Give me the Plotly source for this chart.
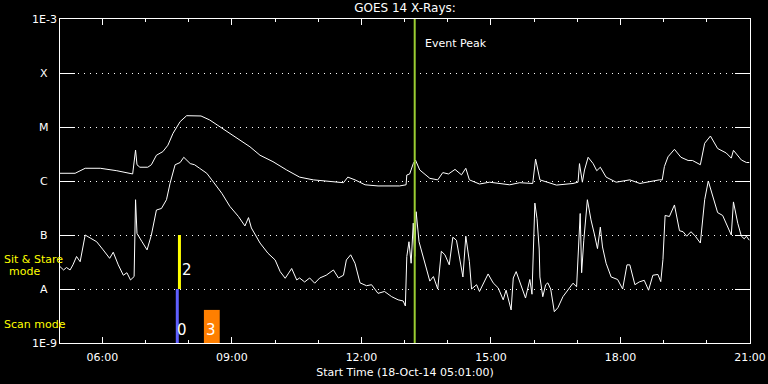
import math
import plotly.graph_objects as go

DAY = "2014-10-18 "

# ---- GOES 14 long channel (1-8 A) ----
long_times = ["05:01","05:22","05:36","05:57","06:20","06:42","06:46","06:48","06:52","07:03",
              "07:08","07:15","07:24","07:31","07:38","07:48","07:57","08:06","08:17","08:29",
              "08:47","09:06","09:25","09:39","09:57","10:16","10:34","10:53","11:35","11:41",
              "11:51","12:05","12:23","12:53","13:02","13:03","13:07","13:12","13:15","13:21",
              "13:35","13:46","13:53","14:01","14:10","14:19","14:25","14:30","14:44","14:58",
              "15:26","15:40","15:58","16:02","16:05","16:08","16:31","16:54","17:01","17:03",
              "17:07","17:10","17:15","17:22","17:27","17:32","17:40","17:54","18:13","18:27",
              "18:54","18:58","19:01","19:06","19:15","19:24","19:34","19:40","19:51","19:57",
              "20:05","20:15","20:27","20:34","20:37","20:48","20:55","20:59"]
long_flux = [1.39e-6,1.39e-6,1.72e-6,1.72e-6,1.55e-6,1.35e-6,3.75e-6,2.0e-6,1.8e-6,1.8e-6,
             2.0e-6,3.0e-6,3.5e-6,4.6e-6,7.6e-6,1.26e-5,1.62e-5,1.6e-5,1.6e-5,1.35e-5,
             9.4e-6,6.2e-6,4.3e-6,3.0e-6,2.28e-6,1.6e-6,1.18e-6,1.05e-6,9.3e-7,1.18e-6,
             1.05e-6,8.5e-7,8.1e-7,8.1e-7,8.5e-7,1.29e-6,1.35e-6,2.1e-6,2.45e-6,1.6e-6,
             1.12e-6,1.05e-6,1.43e-6,1.35e-6,1.64e-6,1.3e-6,1.72e-6,1.05e-6,8.8e-7,9.5e-7,
             8.5e-7,9.3e-7,9.0e-7,2.55e-6,1.6e-6,1.05e-6,8.4e-7,9.0e-7,9.5e-7,2.1e-6,
             9.5e-7,1.6e-6,2.75e-6,2.1e-6,1.55e-6,1.8e-6,1.18e-6,9.5e-7,1.05e-6,9.0e-7,
             1.05e-6,1.05e-6,1.85e-6,2.8e-6,3.86e-6,2.75e-6,2.4e-6,2.4e-6,2.0e-6,5.0e-6,
             6.8e-6,4.0e-6,3.3e-6,2.65e-6,3.7e-6,2.45e-6,2.2e-6,2.2e-6]

# ---- GOES 14 short channel (0.5-4 A) ----
short_times = ["05:01","05:06","05:10","05:15","05:19","05:24","05:29","05:36","05:43","05:52",
               "06:01","06:10","06:15","06:22","06:29","06:34","06:39","06:44","06:46","06:48",
               "06:55","07:02","07:08","07:15","07:22","07:29","07:34","07:41","07:48","07:53",
               "08:02","08:08","08:15","08:25","08:32","08:46","08:57","09:09","09:18","09:23",
               "09:27","09:39","09:50","10:00","10:07","10:14","10:18","10:23","10:30","10:34",
               "10:41","10:48","10:55","11:02","11:11","11:21","11:28","11:35","11:39","11:45",
               "11:51","11:58","12:07","12:14","12:23","12:32","12:42","12:51","12:58","13:01",
               "13:03","13:06","13:09","13:12","13:14","13:16","13:20","13:30","13:35","13:40",
               "13:46","13:51","13:56","14:02","14:07","14:12","14:21","14:25","14:30","14:33",
               "14:40","14:44","14:56","15:03","15:10","15:17","15:21","15:28","15:31","15:35",
               "15:42","15:48","15:54","15:57","16:01","16:04","16:07","16:08","16:12","16:16",
               "16:19","16:23","16:28","16:33","16:40","16:47","16:54","16:59","17:02","17:04",
               "17:06","17:09","17:14","17:19","17:24","17:28","17:32","17:35","17:40","17:47",
               "17:56","18:03","18:09","18:13","18:20","18:26","18:33","18:39","18:45","18:52",
               "18:56","18:59","19:02","19:08","19:15","19:22","19:27","19:32","19:38","19:44",
               "19:51","19:57","20:02","20:08","20:15","20:22","20:32","20:34","20:37","20:43",
               "20:48","20:52","20:55","20:59"]
short_flux = [2.6e-8,2.25e-8,2.5e-8,2.25e-8,2.8e-8,4.0e-8,3.2e-8,1.0e-7,8.8e-8,7.5e-8,
              5.3e-8,3.7e-8,4.8e-8,2.8e-8,1.8e-8,2.0e-8,1.47e-8,1.7e-8,4.5e-7,1.07e-7,
              7.5e-8,5.3e-8,1.0e-7,2.9e-7,3.1e-7,4.5e-7,9.1e-7,2.0e-6,2.2e-6,2.75e-6,
              2.1e-6,2.0e-6,1.72e-6,1.39e-6,1.05e-6,5.9e-7,3.4e-7,2.2e-7,1.47e-7,2.1e-7,
              1.35e-7,7.1e-8,4.6e-8,3.45e-8,2.1e-8,1.58e-8,1.9e-8,2.4e-8,1.47e-8,1.6e-8,
              1.35e-8,1.6e-8,1.28e-8,1.6e-8,1.8e-8,2.25e-8,1.6e-8,1.8e-8,3.45e-8,4.3e-8,
              3.0e-8,1.3e-8,1.15e-8,1.2e-8,8.3e-9,9.0e-9,7.2e-9,6.3e-9,6.0e-9,4.85e-9,
              4.0e-8,7.5e-8,3.0e-8,1.66e-7,4.0e-8,2.7e-7,7.5e-8,2.6e-8,1.4e-8,1.7e-8,
              1.0e-8,5.0e-8,4.3e-8,2.8e-8,9.1e-8,8.0e-8,1.67e-8,9.5e-8,3.2e-8,1.0e-8,
              1.2e-8,9.0e-9,1.9e-8,1.3e-8,1.05e-8,6.3e-9,9.5e-9,4.1e-9,1.6e-8,2.1e-8,
              1.2e-8,6.8e-9,1.5e-8,8.0e-9,3.9e-7,2.0e-7,5.5e-8,1.67e-8,7.2e-9,1.2e-8,
              1.3e-8,1.0e-8,3.8e-9,4.5e-9,7.2e-9,9.5e-9,1.28e-8,1.1e-8,1.14e-7,2.5e-7,
              2.0e-8,8.0e-8,4.5e-7,1.9e-7,1.0e-7,5.6e-8,1.4e-7,6.0e-8,3.0e-8,1.67e-8,
              1.5e-8,1.0e-8,2.8e-8,2.8e-8,1.2e-8,1.35e-8,1.45e-8,9.5e-9,1.8e-8,1.86e-8,
              1.37e-8,3.5e-8,2.3e-7,2.2e-7,3.6e-7,1.2e-7,1.15e-7,9.5e-8,1.15e-7,9.5e-8,
              7.1e-8,4.5e-7,1.0e-6,5.1e-7,2.6e-7,2.3e-7,1.14e-7,1.0e-7,4.1e-7,1.65e-7,
              9.5e-8,8.5e-8,9.5e-8,8.0e-8]

assert len(long_times) == len(long_flux)
assert len(short_times) == len(short_flux)

# ---- axis labels ----
class_vals = [1e-9, 1e-8, 1e-7, 1e-6, 1e-5, 1e-4, 1e-3]
class_labels = ["1E-9", "A", "B", "C", "M", "X", "1E-3"]
x_start, x_end = "05:01", "21:00"
major_tick0 = "06:00"

# ---- event / observing-mode markers ----
event_peak = "13:14"
sit_stare_time = "07:47"
sit_stare_range = [1e-8, 1e-7]
sit_stare_label = "2"
scan_time = "07:44"
scan_range = [1e-9, 1e-8]
scan_label = "0"
scan3_start, scan3_end, scan3_top = "08:21", "08:43", 4.1e-9
scan3_label = "3"

FONT = "DejaVu Sans"
WHITE = "#ffffff"
YELLOW = "#ffff00"

def ts(hm):
    return DAY + hm

fig = go.Figure()

fig.add_trace(go.Scatter(x=[ts(t) for t in long_times], y=long_flux, mode="lines",
                         line=dict(color=WHITE, width=1), hoverinfo="skip"))
fig.add_trace(go.Scatter(x=[ts(t) for t in short_times], y=short_flux, mode="lines",
                         line=dict(color=WHITE, width=1), hoverinfo="skip"))

# scan mode (blue) and sit & stare (yellow) markers
fig.add_trace(go.Scatter(x=[ts(scan_time)] * 2, y=scan_range, mode="lines",
                         line=dict(color="#6060ff", width=3), hoverinfo="skip"))
fig.add_trace(go.Scatter(x=[ts(sit_stare_time)] * 2, y=sit_stare_range, mode="lines",
                         line=dict(color=YELLOW, width=3), hoverinfo="skip"))
fig.add_trace(go.Scatter(
    x=[ts(scan3_start), ts(scan3_end), ts(scan3_end), ts(scan3_start), ts(scan3_start)],
    y=[class_vals[0], class_vals[0], scan3_top, scan3_top, class_vals[0]],
    mode="lines", fill="toself", fillcolor="#ff7f00", line=dict(width=0, color="#ff7f00"),
    hoverinfo="skip"))

# event peak line
fig.add_trace(go.Scatter(x=[ts(event_peak)] * 2, y=[class_vals[0], class_vals[-1]], mode="lines",
                         line=dict(color="#9acd32", width=2), hoverinfo="skip"))

ann = []
for v, lab in zip(class_vals, class_labels):
    ann.append(dict(x=(44 - 60) / 690, xref="paper", y=math.log10(v), yref="y",
                    text=lab, showarrow=False, xanchor="center", yanchor="middle",
                    font=dict(family=FONT, size=11, color=WHITE)))

ann.append(dict(x=ts(event_peak), xref="x", y=(343 - 43) / 324, yref="paper",
                text="Event Peak", showarrow=False, xanchor="left", yanchor="middle",
                xshift=8, font=dict(family=FONT, size=11, color=WHITE)))
ann.append(dict(x=ts(sit_stare_time), xref="x", y=math.log10(sit_stare_range[0]), yref="y",
                text=sit_stare_label, showarrow=False, xanchor="left", yanchor="bottom",
                xshift=1, yshift=8, font=dict(family=FONT, size=15, color=WHITE)))
ann.append(dict(x=ts(scan_time), xref="x", y=math.log10(scan_range[0]), yref="y",
                text=scan_label, showarrow=False, xanchor="left", yanchor="bottom",
                xshift=-2, yshift=2, font=dict(family=FONT, size=15, color=WHITE)))
ann.append(dict(x=ts(scan3_start), xref="x", y=math.log10(class_vals[0]), yref="y",
                text=scan3_label, showarrow=False, xanchor="left", yanchor="bottom",
                xshift=0, yshift=2, font=dict(family=FONT, size=15, color=WHITE)))

ann.append(dict(x=(2 - 60) / 690, xref="paper", y=(343 - 259) / 324, yref="paper",
                text="Sit & Stare", showarrow=False, xanchor="left", yanchor="middle",
                font=dict(family=FONT, size=11, color=YELLOW)))
ann.append(dict(x=(24.5 - 60) / 690, xref="paper", y=(343 - 271) / 324, yref="paper",
                text="mode", showarrow=False, xanchor="center", yanchor="middle",
                font=dict(family=FONT, size=11, color=YELLOW)))
ann.append(dict(x=(2 - 60) / 690, xref="paper", y=(343 - 324) / 324, yref="paper",
                text="Scan mode", showarrow=False, xanchor="left", yanchor="middle",
                font=dict(family=FONT, size=11, color=YELLOW)))

fig.update_layout(
    width=768, height=384, autosize=False,
    paper_bgcolor="#000000", plot_bgcolor="#000000",
    margin=dict(l=60, r=18, t=19, b=41, pad=0, autoexpand=False),
    showlegend=False,
    title=dict(text="GOES 14 X-Rays:", x=0.5, xref="paper", xanchor="center",
               y=1 - 8 / 384, yref="container", yanchor="middle",
               font=dict(family=FONT, size=12, color=WHITE)),
    annotations=ann,
    xaxis=dict(
        type="date", range=[ts(x_start), ts(x_end)], automargin=False,
        tickmode="linear", tick0=ts(major_tick0), dtick=3 * 3600 * 1000,
        tickformat="%H:%M",
        ticks="inside", ticklen=6, tickwidth=1, tickcolor=WHITE,
        ticklabelstandoff=4,
        minor=dict(ticks="inside", ticklen=3, tickwidth=1, tickcolor=WHITE,
                   tick0=ts(major_tick0), dtick=3600 * 1000, showgrid=False),
        showline=True, linecolor=WHITE, linewidth=1, mirror="ticks",
        showgrid=False, zeroline=False,
        tickfont=dict(family=FONT, size=11, color=WHITE),
        title=dict(text="Start Time (18-Oct-14 05:01:00)", standoff=5,
                   font=dict(family=FONT, size=11, color=WHITE)),
    ),
    yaxis=dict(
        type="log", range=[-9, -3], automargin=False,
        tickmode="array", tickvals=class_vals, showticklabels=False,
        ticks="inside", ticklen=15, tickwidth=1, tickcolor=WHITE,
        showline=True, linecolor=WHITE, linewidth=1, mirror="ticks",
        showgrid=True, gridcolor=WHITE, gridwidth=1, griddash="1px,5px",
        zeroline=False,
    ),
)

fig.write_html("out.html", config={"displayModeBar": False},
               post_script="document.body.style.margin='0';document.body.style.background='#000';")
